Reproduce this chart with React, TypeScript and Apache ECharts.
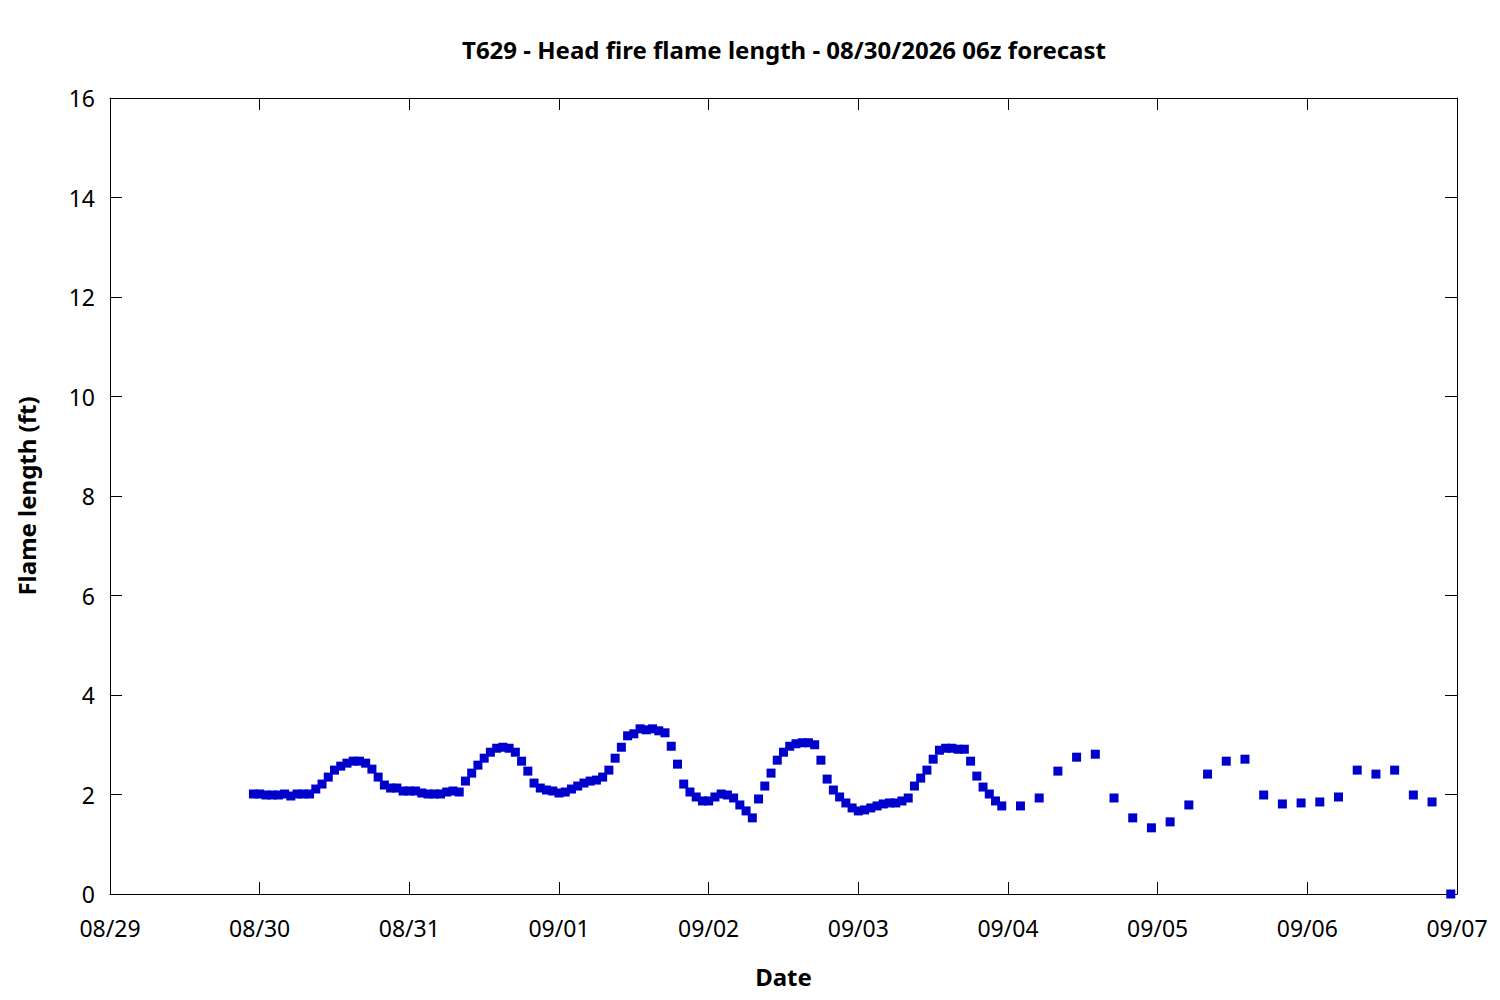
import React, { useEffect, useRef } from "react";
import * as echarts from "echarts";

// Tick labels (one per day, hours since 08/29 00:00 at multiples of 24)
const DATE_LABELS = ["08/29", "08/30", "08/31", "09/01", "09/02", "09/03", "09/04", "09/05", "09/06", "09/07"];

// Hourly forecast: starts 08/29 23:00 (hour 23), one value per hour
const HOURLY_START = 23;
const HOURLY_FT = [
  2.01, 2.01, 1.99, 1.99, 1.99, 2.01, 1.97, 2.01, 2.01, 2.01,
  2.11, 2.21, 2.35, 2.49, 2.57, 2.63, 2.67, 2.67, 2.63, 2.51,
  2.35, 2.19, 2.13, 2.13, 2.07, 2.07, 2.07, 2.03, 2.01, 2.01,
  2.01, 2.05, 2.07, 2.05, 2.27, 2.43, 2.59, 2.73, 2.85, 2.93,
  2.95, 2.93, 2.85, 2.67, 2.47, 2.23, 2.13, 2.09, 2.07, 2.03,
  2.05, 2.11, 2.17, 2.23, 2.27, 2.29, 2.35, 2.49, 2.73, 2.95,
  3.18, 3.22, 3.32, 3.30, 3.32, 3.28, 3.24, 2.97, 2.61, 2.21,
  2.05, 1.95, 1.87, 1.87, 1.95, 2.01, 1.99, 1.93, 1.79, 1.67,
  1.53, 1.91, 2.17, 2.43, 2.69, 2.85, 2.97, 3.02, 3.04, 3.04,
  3.00, 2.69, 2.31, 2.09, 1.95, 1.83, 1.73, 1.67, 1.69, 1.73,
  1.77, 1.81, 1.83, 1.83, 1.87, 1.93, 2.17, 2.33, 2.49, 2.71,
  2.89, 2.93, 2.93, 2.91, 2.91, 2.67, 2.37, 2.15, 2.01, 1.87,
  1.77,
];

// Three-hourly forecast: starts 09/04 02:00 (hour 146), every 3 hours
const THREE_HOURLY_START = 146;
const THREE_HOURLY_FT = [
  1.77, 1.93, 2.47, 2.75, 2.81, 1.93, 1.53, 1.33, 1.45, 1.79,
  2.41, 2.67, 2.71, 1.99, 1.81, 1.83, 1.85, 1.95, 2.49, 2.41,
  2.49, 1.99, 1.85, 0.0,
];

const FONT = "Noto Sans";

export default function App() {
  const ref = useRef<HTMLDivElement>(null);

  useEffect(() => {
    if (!ref.current) return;
    const chart = echarts.init(ref.current, null, { renderer: "svg" });

    const points: [number, number][] = [];
    HOURLY_FT.forEach((v, i) => points.push([HOURLY_START + i, v]));
    THREE_HOURLY_FT.forEach((v, i) => points.push([THREE_HOURLY_START + 3 * i, v]));

    const tickStyle = { show: true, inside: true, length: 12, lineStyle: { color: "#000", width: 1 } };
    const lineStyle = { show: true, onZero: false, lineStyle: { color: "#000", width: 1 } };

    chart.setOption({
      animation: false,
      backgroundColor: "#fff",
      textStyle: { fontFamily: FONT },
      title: {
        text: "T629 - Head fire flame length - 08/30/2026 06z forecast",
        left: 779,
        textAlign: "center",
        top: 32,
        textStyle: { fontFamily: FONT, fontSize: 24, fontWeight: "bold", color: "#000" },
      },
      grid: { left: 110, right: 43, top: 98, bottom: 106, show: false },
      xAxis: [
        {
          type: "value",
          min: 0,
          max: 216,
          interval: 24,
          position: "bottom",
          name: "Date",
          nameLocation: "middle",
          nameGap: 70,
          nameTextStyle: { fontFamily: FONT, fontSize: 24, fontWeight: "bold", color: "#000" },
          axisLine: lineStyle,
          axisTick: tickStyle,
          splitLine: { show: false },
          axisLabel: {
            margin: 22,
            fontFamily: FONT,
            fontSize: 23,
            color: "#000",
            formatter: (v: number) => DATE_LABELS[Math.round(v / 24)] ?? "",
          },
        },
        {
          type: "value",
          min: 0,
          max: 216,
          interval: 24,
          position: "top",
          axisLine: lineStyle,
          axisTick: tickStyle,
          splitLine: { show: false },
          axisLabel: { show: false },
        },
      ],
      yAxis: [
        {
          type: "value",
          min: 0,
          max: 16,
          interval: 2,
          position: "left",
          name: "Flame length (ft)",
          nameLocation: "middle",
          nameGap: 72,
          nameTextStyle: { fontFamily: FONT, fontSize: 24, fontWeight: "bold", color: "#000" },
          axisLine: lineStyle,
          axisTick: tickStyle,
          splitLine: { show: false },
          axisLabel: { margin: 15, fontFamily: FONT, fontSize: 23, color: "#000" },
        },
        {
          type: "value",
          min: 0,
          max: 16,
          interval: 2,
          position: "right",
          axisLine: lineStyle,
          axisTick: tickStyle,
          splitLine: { show: false },
          axisLabel: { show: false },
        },
      ],
      series: [
        {
          type: "scatter",
          xAxisIndex: 0,
          yAxisIndex: 0,
          data: points,
          symbol: "rect",
          symbolSize: 9,
          itemStyle: { color: "#0000cc", opacity: 1 },
          clip: false,
        },
      ],
    });

    return () => chart.dispose();
  }, []);

  return (
    <div
      ref={ref}
      style={{ position: "fixed", left: 0, top: 0, width: 1500, height: 1000, background: "#fff" }}
    />
  );
}
